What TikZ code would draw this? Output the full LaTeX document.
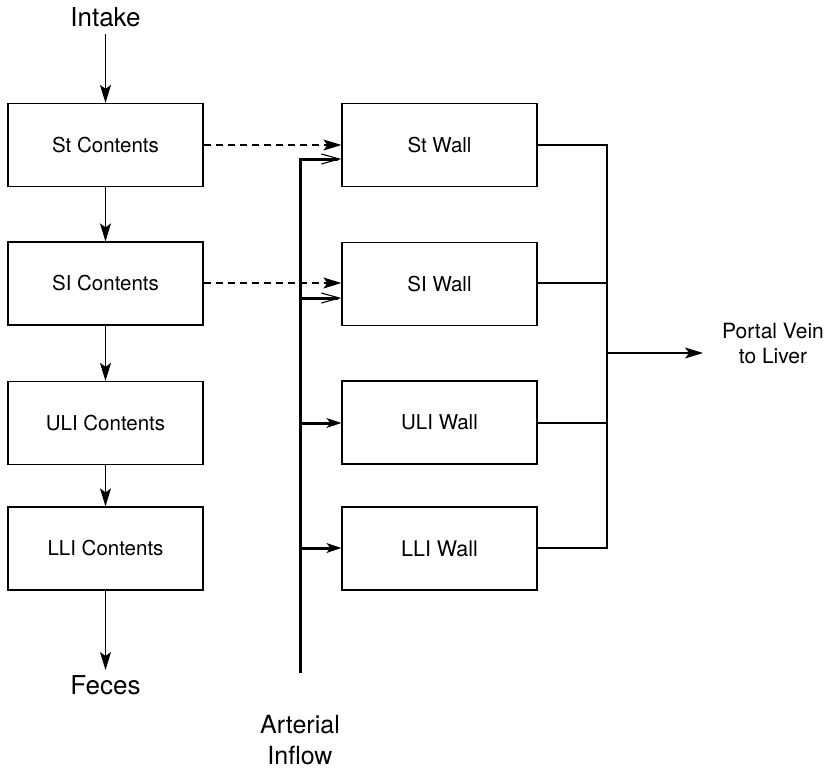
\documentclass[tikz,border=0pt]{standalone}
\usepackage{fontspec}
\setmainfont{TeX Gyre Heros}
\usetikzlibrary{arrows.meta}
\begin{document}
\begin{tikzpicture}[x=1pt,y=-1pt,
  box/.style={draw, line width=1.2pt, minimum width=195pt, minimum height=83pt, inner sep=0pt, font=\fontsize{20.5}{24}\selectfont},
  thin/.style={line width=1.1pt},
  tip/.style={-{Stealth[length=18pt,width=11pt,inset=4pt]}},
  art/.style={line width=3pt},
  lbl/.style={font=\fontsize{26}{31}\selectfont, inner sep=0pt},
]
\useasboundingbox (0,0) rectangle (833,769);
% left column
\node[box] (stc) at (105.5,145) {St Contents};
\node[box] (sic) at (105.5,283.5) {SI Contents};
\node[box] (ulic) at (105.5,423) {ULI Contents};
\node[box] (llic) at (105.5,548.5) {LLI Contents};
% right column
\node[box] (stw) at (439.5,145) {St Wall};
\node[box] (siw) at (439.5,284) {SI Wall};
\node[box] (uliw) at (439.5,422.5) {ULI Wall};
\node[box, font=\fontsize{21.5}{25}\selectfont] (lliw) at (439.5,548.5) {LLI Wall};
% labels
\node[lbl] (intake) at (105.5,17) {Intake};
\node[lbl] (feces) at (105.5,685) {Feces};
\node[lbl, align=center, font=\fontsize{25}{31}\selectfont] (arterial) at (300,740) {Arterial\\Inflow};
\node[align=center, inner sep=0pt, font=\fontsize{21}{25}\selectfont] (portal) at (773,343) {Portal Vein\\to Liver};
% contents chain
\draw[thin,tip] (intake.south) ++(0,7) coordinate (ia) (ia) -- (stc.north);
\draw[thin,tip] (stc) -- (sic);
\draw[thin,tip] (sic) -- (ulic);
\draw[thin,tip] (ulic) -- (llic);
\coordinate (fe) at (105.5,670);
\draw[thin,tip] (llic.south) -- (fe);
% dashed transfer
\draw[thin,tip,dash pattern=on 7pt off 5pt] (stc.east) -- (stw.west);
\draw[thin,tip,dash pattern=on 7pt off 5pt] (sic.east |- 0,283) -- (siw.west |- 0,283);
% arterial inflow
\coordinate (a1) at (300,159);
\coordinate (a2) at (300,298);
\coordinate (a3) at (300,423);
\coordinate (a4) at (300,548);
\coordinate (abot) at (300,673);
\draw[art] (abot) -- (a1) -- ([xshift=-3pt]a1 -| stw.west);
\draw[art] (a2) -- ([xshift=-3pt]a2 -| siw.west);
\draw[art] (a3) -- ([xshift=-8pt]a3 -| uliw.west);
\draw[art] (a4) -- ([xshift=-8pt]a4 -| lliw.west);
\draw[thin,-{Straight Barb[length=18pt,width=10pt]}] (a1) ++(20,0) coordinate (b1) (b1) -- (a1 -| stw.west);
\draw[thin,-{Straight Barb[length=18pt,width=10pt]}] (a2) ++(20,0) coordinate (b2) (b2) -- (a2 -| siw.west);
\draw[thin,-{Stealth[length=15pt,width=10pt,inset=4pt]}] (a3) ++(20,0) coordinate (b3) (b3) -- (a3 -| uliw.west);
\draw[thin,-{Stealth[length=15pt,width=10pt,inset=4pt]}] (a4) ++(20,0) coordinate (b4) (b4) -- (a4 -| lliw.west);
% portal collector
\coordinate (c1) at (607,145);
\coordinate (c4) at (607,548);
\coordinate (cout) at (607,353);
\coordinate (pend) at (703,353);
\draw[thin] (stw.east) -- (c1) -- (c4) -- (lliw.east |- c4);
\draw[thin] (siw.east |- 0,283) -- (607,283);
\draw[thin] (uliw.east |- 0,423) -- (607,423);
\draw[thin,tip] (cout) -- (pend);
\end{tikzpicture}
\end{document}
